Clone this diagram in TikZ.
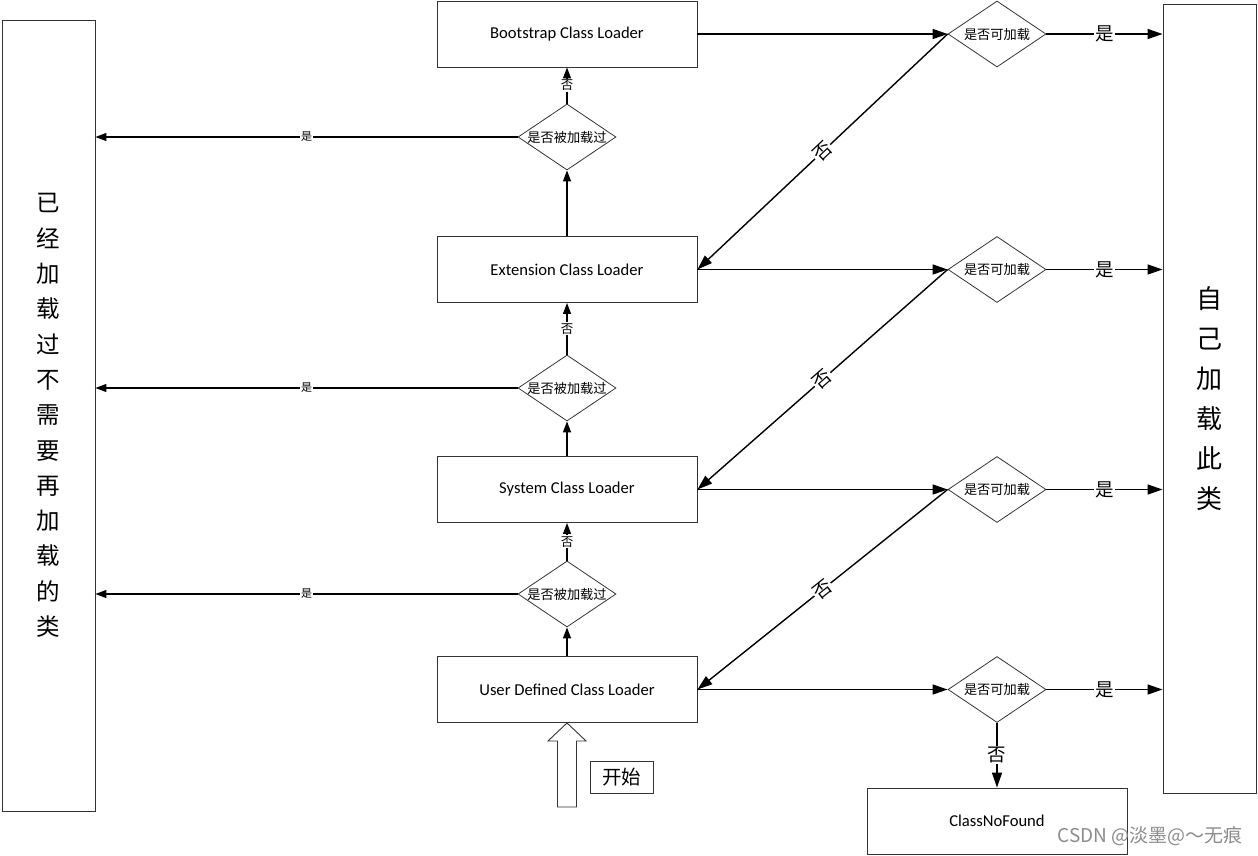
\documentclass[tikz,border=0pt]{standalone}
\usepackage{fontspec}
\setmainfont{Carlito}
\newfontfamily\cjk{Noto Sans CJK SC}
\usetikzlibrary{arrows.meta,shapes.geometric}
\begin{document}
\begin{tikzpicture}[x=1pt,y=-1pt,
 box/.style={draw=black!80, line width=0.9pt, fill=white, minimum width=260pt, minimum height=66pt, inner sep=0pt, font=\fontsize{16.6}{18}\selectfont},
 tall/.style={draw=black!80, line width=0.9pt, minimum width=93pt, inner sep=0pt, align=center},
 dia/.style={draw=black!80, line width=0.8pt, diamond, minimum width=98pt, minimum height=66pt, inner sep=0pt},
 dtxt/.style={font=\cjk\fontsize{13.2}{15}\selectfont, inner sep=0pt},
 conn/.style={line width=1.4pt, -{Triangle[length=15pt,width=10pt]}},
 sconn/.style={line width=1.4pt, -{Triangle[length=11pt,width=8pt]}},
 lab/.style={fill=white, inner sep=1pt, font=\cjk\fontsize{11}{13}\selectfont},
 vlab/.style={fill=white, inner sep=1pt, font=\cjk\fontsize{12.5}{14}\selectfont},
 blab/.style={fill=white, inner sep=1pt, font=\cjk\fontsize{18.5}{20}\selectfont},
]
\useasboundingbox (0,0) rectangle (1258,855);

% side boxes
\node[tall, minimum height=791pt, font=\cjk\fontsize{23.5}{35.3}\selectfont] (done) at (48.5,415.5)
 {已\\经\\加\\载\\过\\不\\需\\要\\再\\加\\载\\的\\类};
\node[tall, minimum height=789pt, font=\cjk\fontsize{26}{40}\selectfont] (self) at (1209.5,398.5)
 {自\\己\\加\\载\\此\\类};

% loader boxes
\node[box] (boot) at (567,34) {Bootstrap Class Loader};
\node[box] (ext) at (567,269.5) {Extension Class Loader};
\node[box] (sys) at (567,489.5) {System Class Loader};
\node[box] (usr) at (567,689.5) {User Defined Class Loader};
\node[box] (cnf) at (997,821) {ClassNoFound};

% diamonds "loaded?"
\node[dia] (dl1) at (567,137) {};
\node[dtxt] at (dl1) {是否被加载过};
\node[dia] (dl2) at (567,388) {};
\node[dtxt] at (dl2) {是否被加载过};
\node[dia] (dl3) at (567,594) {};
\node[dtxt] at (dl3) {是否被加载过};

% diamonds "loadable?"
\node[dia] (dr1) at (997,34) {};
\node[dtxt] at (dr1) {是否可加载};
\node[dia] (dr2) at (997,269.5) {};
\node[dtxt] at (dr2) {是否可加载};
\node[dia] (dr3) at (997,489.5) {};
\node[dtxt] at (dr3) {是否可加载};
\node[dia] (dr4) at (997,689.5) {};
\node[dtxt] at (dr4) {是否可加载};

% upward chain
\draw[sconn] (usr.north) -- (dl3.south);
\draw[sconn] (dl3.north) -- node[vlab]{否} (sys.south);
\draw[sconn] (sys.north) -- (dl2.south);
\draw[sconn] (dl2.north) -- node[vlab]{否} (ext.south);
\draw[sconn] (ext.north) -- (dl1.south);
\draw[sconn] (dl1.north) -- node[vlab]{否} (boot.south);

% already loaded
\draw[sconn] (dl1.west) -- node[lab]{是} (done.east |- dl1);
\draw[sconn] (dl2.west) -- node[lab]{是} (done.east |- dl2);
\draw[sconn] (dl3.west) -- node[lab]{是} (done.east |- dl3);

% try to load
\draw[conn] (boot.east) -- (dr1.west);
\draw[conn] (ext.east) -- (dr2.west);
\draw[conn] (sys.east) -- (dr3.west);
\draw[conn] (usr.east) -- (dr4.west);

\draw[conn] (dr1.east) -- node[blab]{是} (self.west |- dr1);
\draw[conn] (dr2.east) -- node[blab]{是} (self.west |- dr2);
\draw[conn] (dr3.east) -- node[blab]{是} (self.west |- dr3);
\draw[conn] (dr4.east) -- node[blab]{是} (self.west |- dr4);

\draw[conn] (dr1.west) -- node[blab, sloped]{否} (ext.east);
\draw[conn] (dr2.west) -- node[blab, sloped]{否} (sys.east);
\draw[conn] (dr3.west) -- node[blab, sloped]{否} (usr.east);
\draw[conn] (dr4.south) -- node[blab]{否} (cnf.north);

% start arrow
\draw[draw=black!80, line width=0.9pt, fill=white] (usr.south) -- ++(19,18) -- ++(-9.5,0) -- ++(0,66) -- ++(-19,0) -- ++(0,-66) -- ++(-9.5,0) -- cycle;
\node[draw=black!80, line width=0.9pt, minimum width=63pt, minimum height=32pt, inner sep=0pt, font=\cjk\fontsize{19.5}{21}\selectfont] (start) at (621.5,777) {开始};

% watermark
\node[text=black!45, font=\cjk\fontsize{19}{21}\selectfont, inner sep=0pt] (wm) at (1150,836) {CSDN @淡墨@～无痕};
\end{tikzpicture}
\end{document}
